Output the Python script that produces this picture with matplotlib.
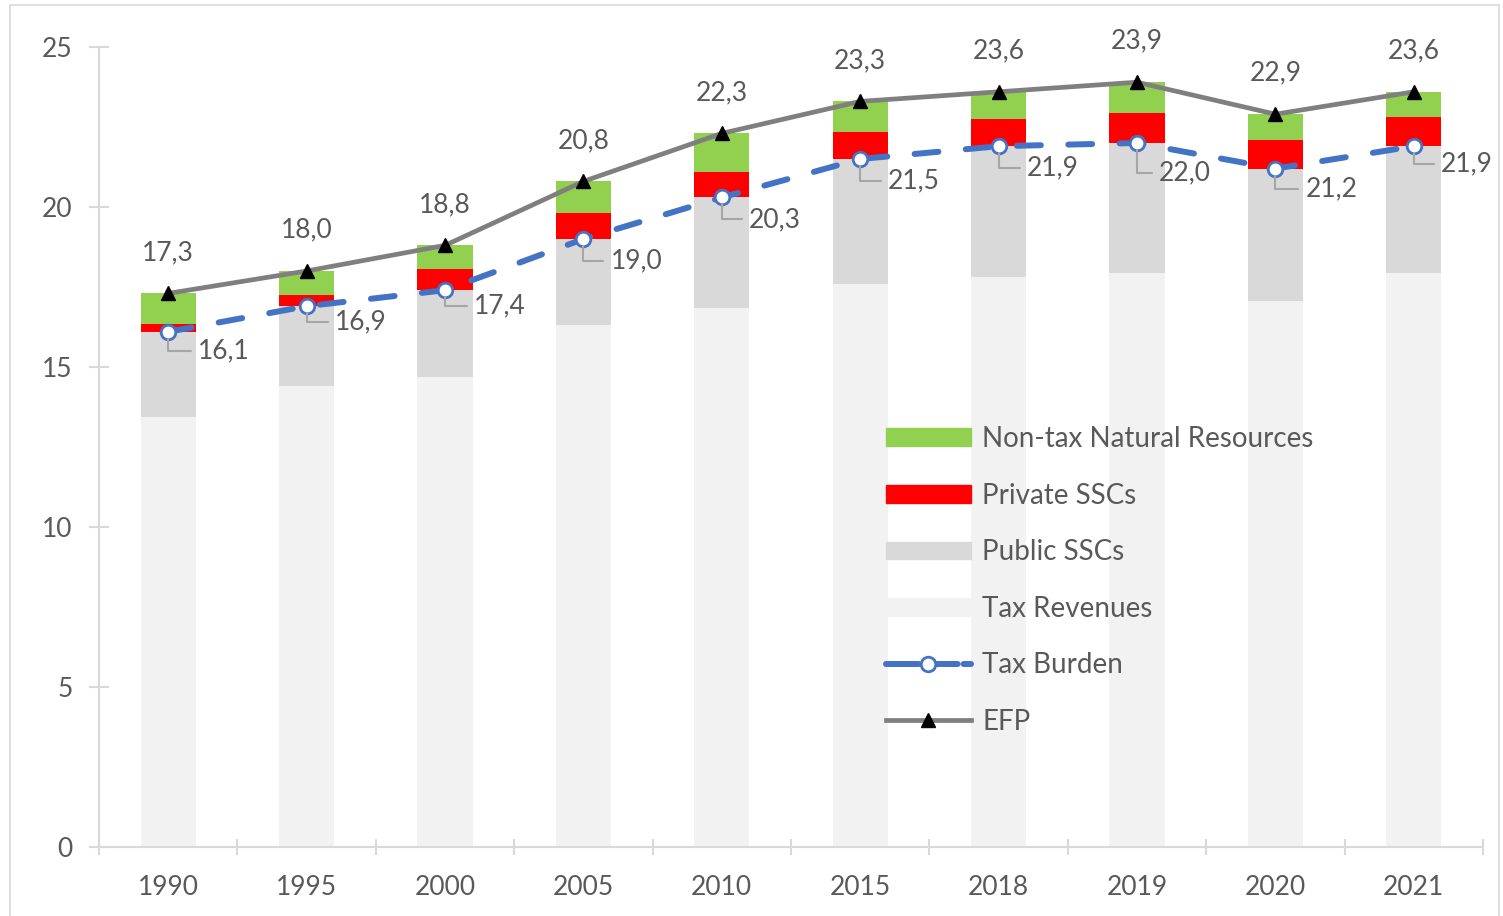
import matplotlib
matplotlib.use("Agg")
import matplotlib.pyplot as plt
from matplotlib.patches import Rectangle
from matplotlib.lines import Line2D
from matplotlib.ticker import FixedLocator
import numpy as np

# ---- data ----
years = ["1990", "1995", "2000", "2005", "2010", "2015", "2018", "2019", "2020", "2021"]
tax_revenues = [13.45, 14.4, 14.7, 16.3, 16.85, 17.6, 17.8, 17.95, 17.05, 17.95]
private_sscs = [0.25, 0.35, 0.65, 0.8, 0.8, 0.85, 0.85, 0.95, 0.9, 0.9]
tax_burden = [16.1, 16.9, 17.4, 19.0, 20.3, 21.5, 21.9, 22.0, 21.2, 21.9]
efp = [17.3, 18.0, 18.8, 20.8, 22.3, 23.3, 23.6, 23.9, 22.9, 23.6]

public_sscs = [b - t for b, t in zip(tax_burden, tax_revenues)]
nontax_nr = [e - b - p for e, b, p in zip(efp, tax_burden, private_sscs)]

# label offsets for Tax Burden labels (pixels)
tb_offsets = [(30, -19), (28, -16), (29, -16), (27, -22), (27, -22),
              (28, -22), (28, -22), (22, -30), (30, -20), (27, -18)]

TXT = "#595959"
plt.rcParams['font.family'] = ['Lato', 'DejaVu Sans']
FS = 19
FSL = 20

fig = plt.figure(figsize=(15.03, 9.16), dpi=100)
ax = fig.add_axes([99/1503, 69/916, 1384/1503, 800/916])

x = np.arange(len(years))
w = 0.4
c_tax, c_pub, c_priv, c_nt = "#f2f2f2", "#d9d9d9", "#ff0000", "#92d050"
b0 = np.array(tax_revenues)
b1 = b0 + np.array(public_sscs)
b2 = b1 + np.array(private_sscs)
ax.bar(x, tax_revenues, w, color=c_tax, zorder=2)
ax.bar(x, public_sscs, w, bottom=b0, color=c_pub, zorder=2)
ax.bar(x, private_sscs, w, bottom=b1, color=c_priv, zorder=2)
ax.bar(x, nontax_nr, w, bottom=b2, color=c_nt, zorder=2)

blue = "#4472c4"
tb_style = dict(color=blue, lw=4.3, dashes=(4.0, 4.6), dash_capstyle='round',
                marker='o', ms=10.5, mfc='white', mec=blue, mew=2)
efp_style = dict(color="#7f7f7f", lw=3.4, marker='^', ms=10, mfc='black', mec='black')
ax.plot(x, tax_burden, zorder=4, **tb_style)
ax.plot(x, efp, zorder=5, **efp_style)

for xi, v in zip(x, efp):
    ax.annotate(f"{v:.1f}".replace('.', ','), (xi, v), xytext=(0, 41),
                textcoords='offset pixels', ha='center', va='center',
                fontsize=FS, color=TXT, zorder=6)
for xi, v, (dx, dy) in zip(x, tax_burden, tb_offsets):
    ax.annotate(f"{v:.1f}".replace('.', ','), (xi, v), xytext=(dx, dy),
                textcoords='offset pixels', ha='left', va='center',
                fontsize=FS, color=TXT, zorder=6,
                arrowprops=dict(arrowstyle='-', color='#a6a6a6', lw=1.5,
                                connectionstyle='angle,angleA=0,angleB=90,rad=0',
                                relpos=(0, 0.5), shrinkA=3, shrinkB=5))

ax.set_xlim(-0.5, 9.5)
ax.set_ylim(0, 25)
ax.set_yticks([0, 5, 10, 15, 20, 25])
ax.set_xticks(x)
ax.set_xticklabels(years)
ax.xaxis.set_minor_locator(FixedLocator(np.arange(-0.5, 10, 1.0)))
ax.tick_params(axis='x', which='major', length=0, pad=20, labelsize=FS, labelcolor=TXT)
ax.tick_params(axis='x', which='minor', length=12, width=1.5, color='#d9d9d9', direction='inout')
ax.tick_params(axis='y', length=14, width=1.5, color='#d9d9d9', direction='inout',
               pad=12, labelsize=FS, labelcolor=TXT)
for s in ['top', 'right']:
    ax.spines[s].set_visible(False)
for s in ['left', 'bottom']:
    ax.spines[s].set_color('#d9d9d9')
    ax.spines[s].set_linewidth(1.5)

tb_leg = dict(tb_style)
tb_leg['dashes'] = (5.5, 1.0)
handles = [
    Rectangle((0, 0), 1, 1, color=c_nt),
    Rectangle((0, 0), 1, 1, color=c_priv),
    Rectangle((0, 0), 1, 1, color=c_pub),
    Rectangle((0, 0), 1, 1, color=c_tax),
    Line2D([], [], **tb_leg),
    Line2D([], [], **efp_style),
]
labels = ["Non-tax Natural Resources", "Private SSCs", "Public SSCs",
          "Tax Revenues", "Tax Burden", "EFP"]
leg = fig.legend(handles, labels, loc='upper left',
                 bbox_to_anchor=(886/1503, 1 - 426/916), frameon=False,
                 fontsize=FSL, labelcolor=TXT, handlelength=3.05,
                 handleheight=0.6, handletextpad=0.42, labelspacing=1.1,
                 borderpad=0, borderaxespad=0)
leg.set_zorder(7)

fig.patches.append(Rectangle((10/1503, -0.01), 1489/1503, 1 - 5/916 + 0.01,
                             transform=fig.transFigure, fill=False,
                             edgecolor='#d9d9d9', lw=1.2))

fig.savefig("out.png", dpi=100)
